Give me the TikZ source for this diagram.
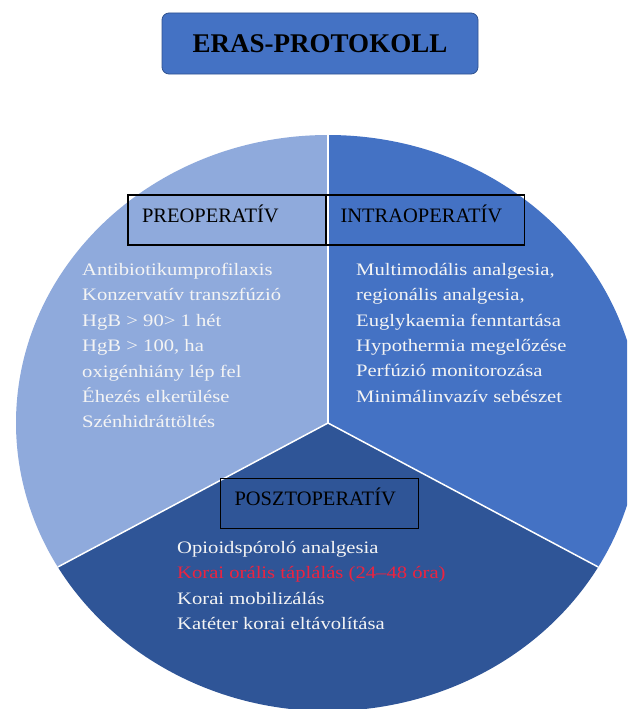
\documentclass[tikz,border=0pt]{standalone}
\usepackage{fontspec}
\setmainfont{Liberation Serif}
\newfontfamily\listfont{Liberation Serif}[FakeStretch=1.18]
\usepackage{tikz}
\usetikzlibrary{positioning}
\definecolor{preopblue}{HTML}{8FAADC}
\definecolor{intrablue}{HTML}{4472C4}
\definecolor{postblue}{HTML}{2F5597}
\definecolor{titleline}{HTML}{2F528F}
\definecolor{redtext}{HTML}{EC2340}
\definecolor{offwhite}{HTML}{F4F4F4}

\begin{document}
\begin{tikzpicture}[
      x=1pt, y=-1pt,  % pixel grid, y grows downwards
      titlebox/.style={draw=titleline, line width=0.8pt, fill=intrablue, rounded corners=7pt, minimum width=316pt, minimum height=61pt, inner sep=0pt, text height=18pt, text depth=0pt, font=\fontsize{27}{30}\selectfont\bfseries},
      phasebox/.style={draw=black, line width=1.1pt, minimum height=50pt, text width=170pt, inner xsep=14pt, inner ysep=0pt, align=left, text height=10pt, text depth=6pt, font=\fontsize{20.5}{24}\selectfont},
      itemlist/.style={anchor=north west, inner sep=0pt, align=left, text=offwhite, font=\listfont\fontsize{17.5}{25.4}\selectfont},
      divider/.style={draw=white, line width=1.5pt}
    ]
    \useasboundingbox (0,0) rectangle (627,709);

    % Title
    \node[titlebox] (title) at (320,43.5) {ERAS-PROTOKOLL};

    % Pie: centre and sector corners
    \coordinate (ctr) at (328,423);
    \path (ctr) ++(270:312 and 288) coordinate (ptop);
    \path (ctr) ++(150:312 and 288) coordinate (pleft);
    \path (ctr) ++(30:312 and 288) coordinate (pright);

    \begin{scope}
      \clip (0,0) rectangle (627,709);
      \fill[preopblue] (ctr) -- (ptop) arc[start angle=270, end angle=150, x radius=312, y radius=288] -- cycle;
      \fill[intrablue] (ctr) -- (ptop) arc[start angle=-90, end angle=30, x radius=312, y radius=288] -- cycle;
      \fill[postblue] (ctr) -- (pright) arc[start angle=30, end angle=150, x radius=312, y radius=288] -- cycle;
      \draw[divider] (ctr) -- (ptop);
      \draw[divider] (ctr) -- (pleft);
      \draw[divider] (ctr) -- (pright);
    \end{scope}

    % Phase headings
    \node[phasebox] (prehdr) at (227,220) {PREOPERATÍV};
    \node[phasebox] (intrahdr) at (425.5,220) {INTRAOPERATÍV};
    \node[phasebox] (posthdr) at (319.5,503.5) {POSZTOPERATÍV};

    % Item lists
    \node[itemlist] (prelist) at (82,263) {Antibiotikumprofilaxis\\ Konzervatív transzfúzió\\ HgB > 90> 1 hét\\ HgB > 100, ha\\ oxigénhiány lép fel\\ Éhezés elkerülése\\ Szénhidráttöltés};
    \node[itemlist] (intralist) at (356,263) {Multimodális analgesia,\\ regionális analgesia,\\ Euglykaemia fenntartása\\ Hypothermia megelőzése\\ Perfúzió monitorozása\\ Minimálinvazív sebészet};
    \node[itemlist] (postlist) at (177,541) {Opioidspóroló analgesia\\ \textcolor{redtext}{Korai orális táplálás (24–48 óra)}\\ Korai mobilizálás\\ Katéter korai eltávolítása};
  \end{tikzpicture}
\end{document}
